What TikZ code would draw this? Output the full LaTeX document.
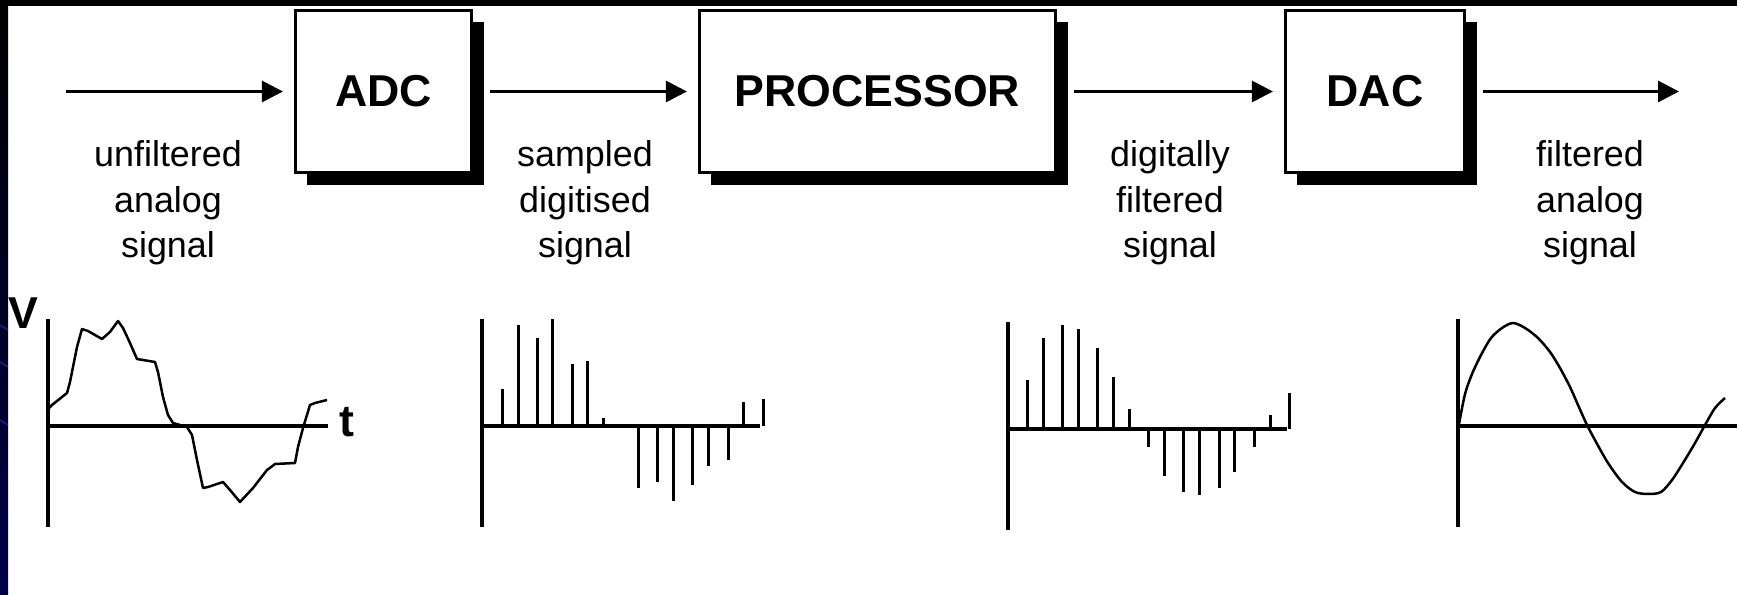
\documentclass[tikz,border=0pt]{standalone}
\usepackage{fontspec}
\setmainfont{Liberation Sans}
\usetikzlibrary{arrows.meta,shadows}

\definecolor{slidenavy}{RGB}{0,0,72}
\definecolor{streak}{RGB}{30,30,125}

\tikzset{
	block/.style={draw, fill=white, line width=0.03cm, minimum height=1.62cm,
		font=\fontsize{12.7}{15}\selectfont\bfseries,
		drop shadow={shadow xshift=0.12cm, shadow yshift=-0.12cm, fill=black, opacity=1}},
	flow/.style={line width=0.03cm, -{Triangle[length=0.21cm, width=0.21cm]},
		shorten <=0.17cm, shorten >=0.11cm},
	caption/.style={align=center, inner sep=0pt, font=\fontsize{10.2}{12.95}\selectfont},
	unit/.style={inner sep=0pt, font=\fontsize{12.7}{15}\selectfont\bfseries},
	axis/.style={line width=0.035cm},
	wave/.style={line width=0.025cm, line join=round},
	stem/.style={line width=0.03cm}
}

\begin{document}
\begin{tikzpicture}[x=0.01cm, y=0.01cm]
	% slide background
	\useasboundingbox[fill=white] (0,0) rectangle (1737,594);
	\fill[black] (0,588) rectangle (1737,594);
	\shade[top color=black, middle color=black, bottom color=slidenavy] (0,0) rectangle (8,588);
	\begin{scope}
		\clip (0,0) rectangle (8,588);
		\foreach \y in {269, 232, 174} {
			\draw[streak, line width=0.015cm] (0,\y) -- (8,\y-5);
		}
	\end{scope}
	
	% signal chain
	\node[block, minimum width=1.76cm] (adc) at (383.5,502.5) {ADC};
	\node[block, minimum width=3.56cm] (proc) at (877.5,502.5) {PROCESSOR};
	\node[block, minimum width=1.79cm] (dac) at (1375,502.5) {DAC};
	\coordinate (in) at (66,502.5);
	\coordinate (out) at (1679,502.5);
	
	\draw[flow, shorten <=0pt] (in) -- (adc);
	\draw[flow] (adc) -- (proc);
	\draw[flow] (proc) -- (dac);
	\draw[flow, shorten >=0pt] (dac) -- (out);
	
	\node[caption] (lraw) at (168,391) {unfiltered\\analog\\signal};
	\node[caption] (lsamp) at (585,391) {sampled\\digitised\\signal};
	\node[caption] (ldig) at (1170,391) {digitally\\filtered\\signal};
	\node[caption] (lout) at (1590,391) {filtered\\analog\\signal};
	
	\node[unit] (vlab) at (23,281) {V};
	\node[unit] (tlab) at (347,172) {t};
	
	% unfiltered analog input
	\begin{scope}[shift={(48,168)}]
		\draw[axis] (0,-101) -- (0,107);
		\draw[axis] (0,0) -- (280,0);
		\draw[wave] (1,18) -- (4,21) -- (19,33) -- (22,44) -- (25,59) -- (29,79) -- (34,97)
			-- (40,95) -- (54,87) -- (62,94) -- (70,105) -- (75,98) -- (82,83) -- (89,67)
			-- (107,64) -- (110,54) -- (115,29) -- (120,11) -- (125,3) -- (139,-1) -- (144,-9)
			-- (149,-34) -- (155,-62) -- (160,-61) -- (175,-56) -- (182,-64) -- (192,-76)
			-- (205,-62) -- (219,-44) -- (227,-38) -- (247,-37) -- (250,-21) -- (255,-2)
			-- (262,21) -- (267,23) -- (279,26);
	\end{scope}
	
	% sampled samples
	\begin{scope}[shift={(482,168)}]
		\draw[axis] (0,-101) -- (0,107);
		\draw[axis] (0,0) -- (278,0);
		\foreach \x/\v in {20/37, 36/101, 55/88, 70/107, 90/62, 105/65, 121/8,
			156/-62, 175/-56, 191/-75, 210/-59, 226/-40, 246/-34, 261/24, 281/27} {
			\draw[stem] (\x,0) -- (\x,\v);
		}
	\end{scope}
	
	% filtered samples
	\begin{scope}[shift={(1008,165)}]
		\draw[axis] (0,-101) -- (0,107);
		\draw[axis] (0,0) -- (279,0);
		\foreach \x/\v in {19/49, 35/91, 54/104, 70/100, 89/81, 105/52, 121/20, 140/-18,
			156/-47, 175/-63, 191/-66, 211/-59, 226/-43, 246/-18, 262/14, 281/36} {
			\draw[stem] (\x,0) -- (\x,\v);
		}
	\end{scope}
	
	% filtered analog output
	\begin{scope}[shift={(1458,168)}]
		\draw[axis] (0,-101) -- (0,107);
		\draw[axis] (0,0) -- (279,0);
		\draw[wave] plot[smooth, tension=0.5] coordinates {(1,2) (7,32) (14,52)
			(23,71) (33,88) (44,98) (55,103) (67,98) (80,88) (92,74) (102,58) (112,39)
			(120,21) (129,1) (138,-16) (150,-37) (164,-56) (177,-66) (190,-68) (203,-66)
			(214,-54) (225,-37) (237,-17) (247,1) (257,18) (267,28)};
	\end{scope}
\end{tikzpicture}
\end{document}
